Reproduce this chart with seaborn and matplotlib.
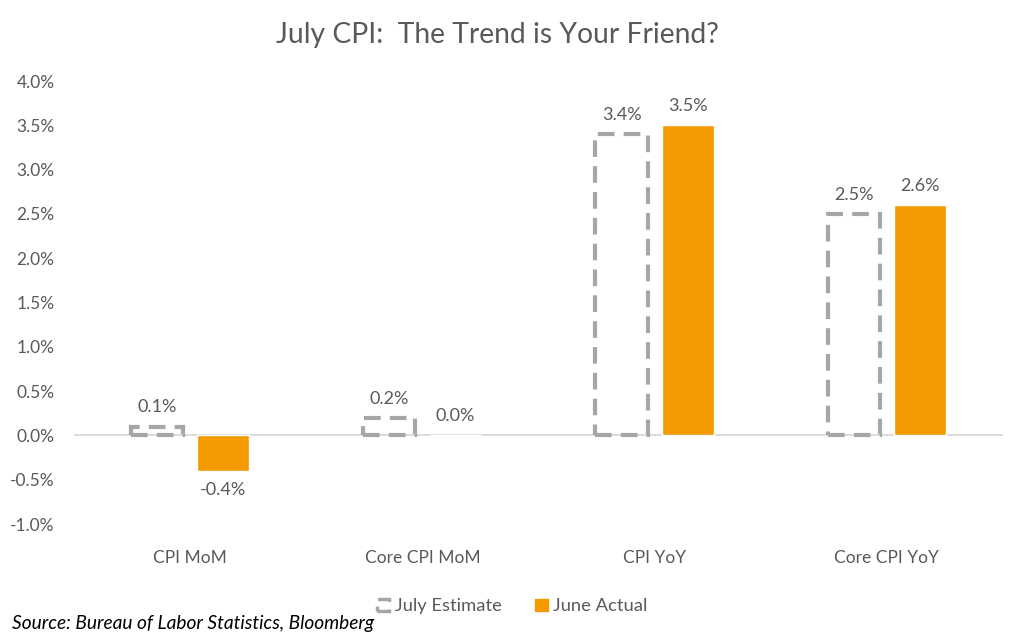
import pandas as pd
import seaborn as sns
from matplotlib import pyplot as plt
from matplotlib.patches import Patch

# === DATA
measures = ['CPI MoM', 'Core CPI MoM', 'CPI YoY', 'Core CPI YoY']
july_estimate = [0.1, 0.2, 3.4, 2.5]
june_actual = [-0.4, 0.0, 3.5, 2.6]
series_names = ['July Estimate', 'June Actual']
y_ticks = [-1.0, -0.5, 0.0, 0.5, 1.0, 1.5, 2.0, 2.5, 3.0, 3.5, 4.0]

db = pd.DataFrame({
    'measure': measures * 2,
    'value': july_estimate + june_actual,
    'series': [series_names[0]] * 4 + [series_names[1]] * 4,
})

# === STYLE
sns.set_style('white')
plt.rcParams['font.family'] = ['Lato', 'DejaVu Sans']

gray = '#A6A6A6'
orange = '#F29A00'
text_gray = '#595959'

# Create figure
fig = plt.figure(figsize=(10.24, 6.41), dpi=100)
ax = fig.add_axes([0.0723, 0.1825, 0.9072, 0.6911])

sns.barplot(data=db, x='measure', y='value', hue='series',
            palette=[gray, orange], saturation=1, width=0.57, gap=0.21,
            legend=False, ax=ax)

# Dashed outline for estimates
for bar in ax.containers[0]:
    bar.set_facecolor('none')
    bar.set_edgecolor(gray)
    bar.set_linewidth(3)
    bar.set_linestyle((0, (4, 2.2)))

# Data labels
for cont in ax.containers:
    ax.bar_label(cont, fmt='%.1f%%', padding=8, fontsize=13, color=text_gray)

# Zero line
ax.axhline(0, color='#D9D9D9', lw=1.3, zorder=0)

# Improve figure
ax.set_ylim(-1.0, 4.0)
ax.set_xlim(-0.5, 3.5)
ax.set_yticks(y_ticks)
ax.set_yticklabels(['{:.1f}%'.format(v) for v in y_ticks])
ax.tick_params(axis='y', labelsize=12.5, labelcolor=text_gray, length=0, pad=14)
ax.tick_params(axis='x', labelsize=12.5, labelcolor=text_gray, length=0, pad=19)
ax.set_xlabel('')
ax.set_ylabel('')
sns.despine(ax=ax, left=True, bottom=True)

fig.suptitle('July CPI:  The Trend is Your Friend?', x=0.486, y=0.965,
             fontsize=20.3, color=text_gray)

# Legend
handles = [Patch(facecolor='none', edgecolor=gray, linewidth=2.5,
                 linestyle=(0, (4, 2.2)), label=series_names[0]),
           Patch(facecolor=orange, edgecolor=orange, label=series_names[1])]
fig.legend(handles=handles, loc='center', bbox_to_anchor=(0.5, 0.054),
           ncol=2, frameon=False, fontsize=13.2, handlelength=0.7,
           handleheight=0.7, handletextpad=0.3, columnspacing=1.8,
           labelcolor=text_gray)

fig.text(0.012, 0.028, 'Source: Bureau of Labor Statistics, Bloomberg',
         fontsize=13.8, style='italic', color='black', va='center')

plt.savefig('out.png')
